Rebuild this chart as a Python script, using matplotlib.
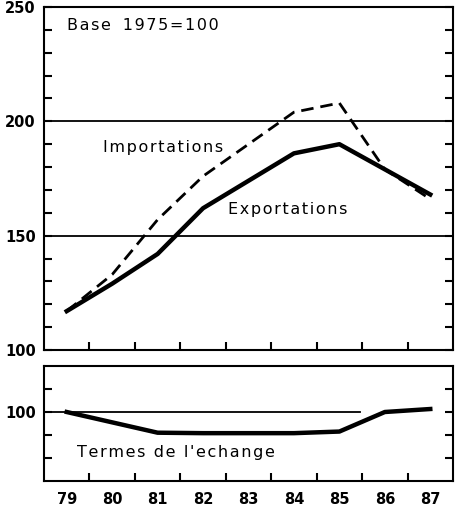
import matplotlib
matplotlib.use("Agg")
import matplotlib.pyplot as plt
import numpy as np

plt.rcParams["font.family"] = ["DejaVu Sans"]

# data (base 1975 = 100)
annees = [79, 80, 81, 82, 83, 84, 85, 86, 87]
exportations = [117, 129, 142, 162, 174, 186, 190, 179, 168]
importations = [117, 133, 157, 176, 190, 204, 208, 179, 166]
termes = [100, 95.5, 91, 90.8, 90.8, 90.8, 91.5, 100, 101.3]


def espace(s):
    # wide letter spacing like the printed original
    return "\u200a".join(s)


fig = plt.figure(figsize=(4.57, 5.09), dpi=100)
ax1 = fig.add_axes([44 / 457, 1 - 350 / 509, 409 / 457, 343 / 509])
ax2 = fig.add_axes([44 / 457, 1 - 481 / 509, 409 / 457, 115 / 509])

lab = dict(fontsize=10.5, fontweight="bold")
txt = dict(fontsize=11.5, va="center", ha="left")

for ax in (ax1, ax2):
    ax.set_xlim(78.5, 87.5)
    for s in ax.spines.values():
        s.set_linewidth(1.5)
    ax.set_xticks(np.arange(79.5, 87.5, 1))
    ax.set_xticklabels([])
    ax.tick_params(axis="x", direction="in", length=6, width=1.5, bottom=True, top=False)
    ax.tick_params(axis="y", which="both", direction="in", length=6, width=1.5,
                   left=True, right=True, pad=6)

# top panel
ax1.set_ylim(100, 250)
ax1.set_yticks(np.arange(100, 251, 10))
ax1.set_yticklabels([str(v) if v % 50 == 0 else "" for v in range(100, 251, 10)], **lab)
for v in (150, 200):
    ax1.axhline(v, color="k", lw=1.3, zorder=1)
ax1.plot(annees, exportations, color="k", lw=3.2, solid_joinstyle="round", zorder=3)
ax1.plot(annees, importations, color="k", lw=2.0, dashes=(4.5, 2.5), zorder=3)
ax1.text(79.0, 242, espace("Base ") + " " + espace("1975=100"), **txt)
ax1.text(79.8, 188.7, espace("Importations"), **txt)
ax1.text(82.55, 161.5, espace("Exportations"), **txt)

# bottom panel
ax2.set_ylim(70, 120)
ax2.set_yticks(np.arange(80, 120, 10))
ax2.set_yticklabels([str(v) if v == 100 else "" for v in range(80, 120, 10)], **lab)
ax2.axhline(100, xmin=0, xmax=0.772, color="k", lw=1.3, zorder=1)
ax2.plot(annees, termes, color="k", lw=3.2, solid_joinstyle="round", zorder=3)
ax2.text(79.23, 82.3, espace("Termes de l'echange"), **txt)

for a in annees:
    ax2.text(a, 62, str(a), ha="center", va="center", **lab)

fig.savefig("out.png", dpi=100)
